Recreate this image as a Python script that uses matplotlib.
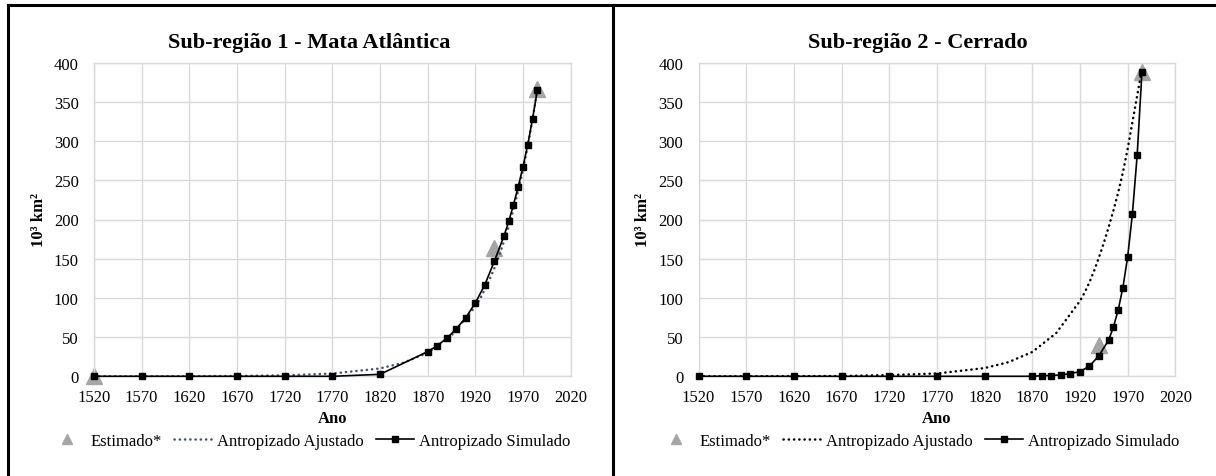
import matplotlib
matplotlib.use("Agg")
import matplotlib.pyplot as plt
from matplotlib.lines import Line2D

plt.rcParams['font.family'] = ['Liberation Serif', 'DejaVu Serif']

# anos e valores (10^3 km2)
anos_sim = [1520, 1570, 1620, 1670, 1720, 1770, 1820, 1870, 1880, 1890, 1900,
            1910, 1920, 1930, 1940, 1950, 1955, 1960, 1965, 1970, 1975, 1980, 1985]
sim_mata = [0, 0, 0, 0, 0, 0, 2.5, 31.5, 39, 48.5, 60.5,
            75, 93.5, 117, 147, 179, 197.5, 219, 242, 267.5, 295.5, 328.5, 365]
sim_cerrado = [0, 0, 0, 0, 0, 0, 0, 0, 0.8, 1, 1.8,
               3.4, 6, 13, 26.5, 46, 62.5, 84, 113, 152, 207, 282, 388]

anos_aj = [1520, 1570, 1620, 1670, 1720, 1770, 1820, 1845, 1870, 1895, 1920,
           1925, 1930, 1935, 1940, 1945, 1950, 1955, 1960, 1965, 1970, 1975, 1980, 1985]
aj_mata = [0, 0, 0.1, 0.4, 1.2, 3.5, 10, 17.5, 30, 52, 89,
           99, 111, 124, 138, 154, 172, 191, 213, 237, 264, 294, 328, 366]
aj_cerrado = [0, 0, 0.1, 0.4, 1.5, 3.6, 10.5, 18, 31, 55, 96,
              107, 120, 135, 152, 170, 190, 211, 234, 260, 290, 324, 358, 392]

anos_est_mata = [1520, 1940, 1985]
est_mata = [0, 164, 366]
anos_est_cerrado = [1940, 1985]
est_cerrado = [40, 388]

xticks = list(range(1520, 2021, 50))
yticks = list(range(0, 401, 50))

W, H = 1216, 477
fig = plt.figure(figsize=(W / 100, H / 100), dpi=100)


def fx(px):
    return px / W


def fy(py):
    return 1 - py / H


def painel(x0, titulo, anos_e, est, aj, sim, cor_aj, centro):
    ax = fig.add_axes([fx(x0), fy(377.3), fx(476.7), (377.3 - 63.7) / H])
    ax.plot(anos_e, est, ls='none', marker='^', ms=11, color='#A5A5A5',
            zorder=2, clip_on=False)
    ax.plot(anos_aj, aj, ls=(0, (0.1, 2.0)), lw=1.8, color=cor_aj,
            dash_capstyle='round', zorder=3)
    ax.plot(anos_sim, sim, ls='-', lw=1.2, color='black', marker='s', ms=5,
            zorder=4, clip_on=False)
    ax.set_xlim(1520, 2020)
    ax.set_ylim(0, 400)
    ax.set_xticks(xticks)
    ax.set_yticks(yticks)
    ax.grid(True, color='#D9D9D9', lw=1)
    ax.set_axisbelow(True)
    for s in ax.spines.values():
        s.set_color('#D9D9D9')
        s.set_linewidth(1)
    ax.tick_params(length=0, labelsize=12, colors='black')
    ax.tick_params(axis='x', pad=9)
    ax.tick_params(axis='y', pad=11)
    ax.set_xlabel('Ano', fontsize=12, fontweight='bold', labelpad=4)
    ax.set_ylabel('10³ km²', fontsize=12, fontweight='bold', labelpad=5)
    fig.text(fx(centro), fy(43), titulo, fontsize=16, fontweight='bold',
             ha='center', va='center')

    handles = [
        Line2D([], [], ls='none', marker='^', ms=7, color='#A5A5A5'),
        Line2D([], [], ls=(0, (0.1, 2.0)), lw=1.8, color=cor_aj,
               dash_capstyle='round'),
        Line2D([], [], ls='-', lw=1.2, color='black', marker='s', ms=5),
    ]
    fig.legend(handles, ['Estimado*', 'Antropizado Ajustado', 'Antropizado Simulado'],
               loc='center', bbox_to_anchor=(fx(centro), fy(442)), ncol=3,
               frameon=False, fontsize=12, handlelength=2.3, handletextpad=0.3,
               columnspacing=0.7, borderaxespad=0)
    return ax


painel(94, 'Sub-região 1 - Mata Atlântica', anos_est_mata, est_mata,
       aj_mata, sim_mata, '#44546A', 309)
painel(698.6, 'Sub-região 2 - Cerrado', anos_est_cerrado, est_cerrado,
       aj_cerrado, sim_cerrado, 'black', 918)

# molduras dos dois graficos
borda = dict(color='black', lw=2.2, transform=fig.transFigure, figure=fig)
fig.lines.append(Line2D([fx(7.5), fx(7.5)], [0, fy(6)], **borda))
fig.lines.append(Line2D([fx(7.5), 1], [fy(6), fy(6)], **borda))
fig.lines.append(Line2D([fx(613), fx(613)], [0, fy(6)], **borda))

fig.savefig('out.png', dpi=100)
